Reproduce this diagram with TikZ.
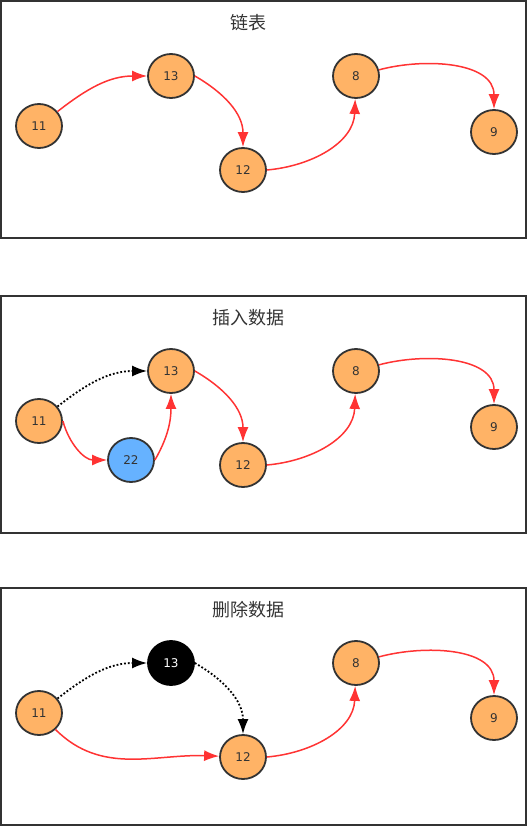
\documentclass[tikz,border=0pt]{standalone}
\usepackage{fontspec}
\setmainfont{DejaVu Sans}
\newfontfamily\cjk{Noto Sans CJK SC}
\usetikzlibrary{arrows.meta,shapes.geometric}
\definecolor{nodeorange}{HTML}{FFB366}
\definecolor{nodeblue}{HTML}{66B2FF}
\definecolor{linkred}{HTML}{FF3333}
\definecolor{darkline}{HTML}{333333}

\begin{document}
\begin{tikzpicture}[x=1pt,y=1pt,
  elem/.style={ellipse,draw=darkline,line width=1.8pt,fill=nodeorange,minimum width=46pt,minimum height=44pt,inner sep=0pt,text=darkline,font=\fontsize{12}{12}\selectfont},
  link/.style={-{Latex[length=15pt,width=11pt]},draw=linkred,line width=1.5pt},
  dotlink/.style={-{Latex[length=15pt,width=11pt]},black,line width=1.8pt,dotted},
  title/.style={font=\cjk\fontsize{18}{18}\selectfont,text=darkline}]
\useasboundingbox (0,0) rectangle (527,-827);
% three frames
\foreach \y in {1,296,588}{\draw[darkline,line width=2pt] (1,-\y) rectangle +(525,-237);}

% linked list
\node[title] (t1) at (248,-23) {链表};
\node[elem] (a11) at (39,-126) {11};
\node[elem] (a13) at (171,-76) {13};
\node[elem] (a12) at (243,-170) {12};
\node[elem] (a8) at (356,-76) {8};
\node[elem] (a9) at (494,-132) {9};
\draw[link] (a11) to[out=38,in=180] (a13);
\draw[link] (a13.east) to[out=-30,in=90] (a12);
\draw[link] (a12.east) to[out=5,in=-92] (a8);
\draw[link] (a8) to[out=15,in=90] (a9);

% insert
\node[title] (t2) at (248,-318) {插入数据};
\node[elem] (b11) at (39,-421) {11};
\node[elem] (b13) at (171,-371) {13};
\node[elem,fill=nodeblue] (b22) at (131,-460) {22};
\node[elem] (b12) at (243,-465) {12};
\node[elem] (b8) at (356,-371) {8};
\node[elem] (b9) at (494,-427) {9};
\draw[dotlink] (b11) to[out=38,in=180] (b13);
\draw[link] (b11.east) to[out=-75,in=180] (b22);
\draw[link] (b22.east) to[out=60,in=-90] (b13);
\draw[link] (b13.east) to[out=-30,in=90] (b12);
\draw[link] (b12.east) to[out=5,in=-92] (b8);
\draw[link] (b8) to[out=15,in=90] (b9);

% delete
\node[title] (t3) at (248,-610) {删除数据};
\node[elem] (c11) at (39,-713) {11};
\node[elem,fill=black,draw=black,text=white] (c13) at (171,-663) {13};
\node[elem] (c12) at (243,-757) {12};
\node[elem] (c8) at (356,-663) {8};
\node[elem] (c9) at (494,-718) {9};
\draw[dotlink] (c11) to[out=38,in=180] (c13);
\draw[dotlink] (c13.east) to[out=-30,in=90] (c12);
\draw[link] (c11) to[out=-45,in=178] (c12);
\draw[link] (c12.east) to[out=5,in=-92] (c8);
\draw[link] (c8) to[out=15,in=90] (c9);
\end{tikzpicture}
\end{document}
